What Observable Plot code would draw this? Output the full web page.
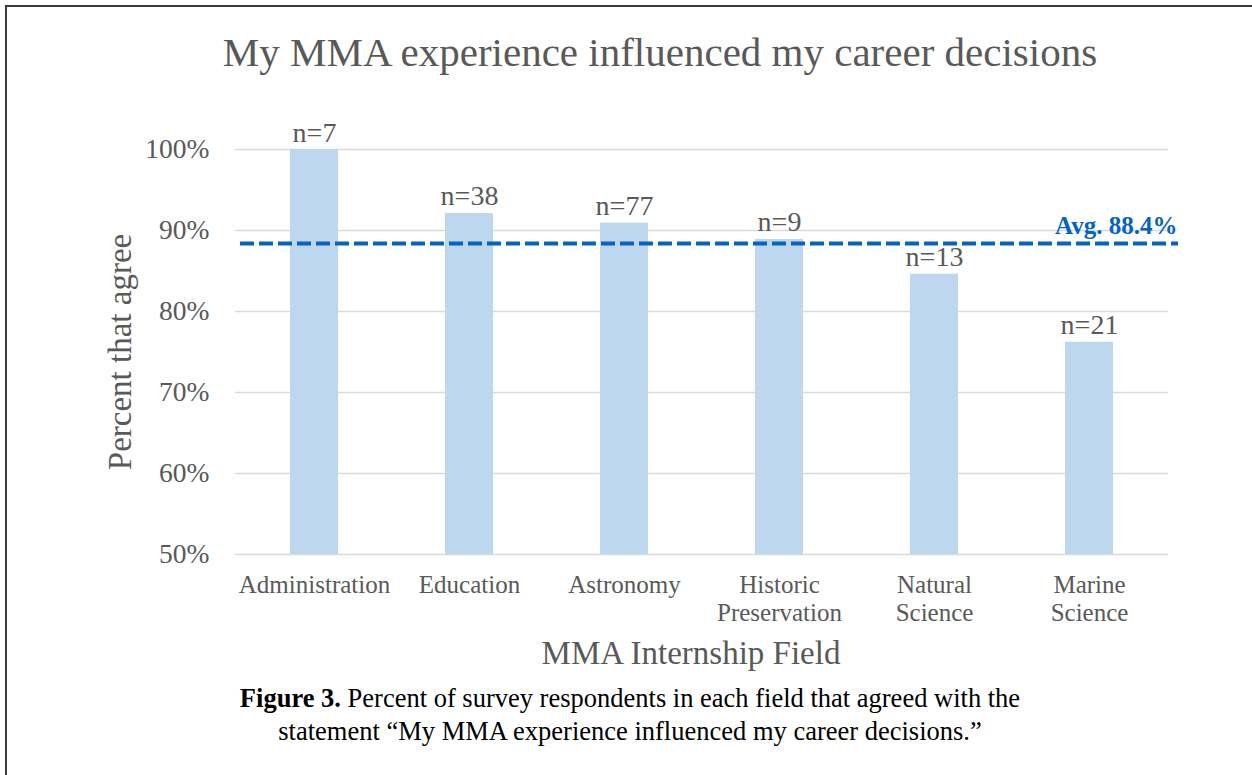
<!DOCTYPE html>
<html>
<head>
<meta charset="utf-8">
<script src="https://cdn.jsdelivr.net/npm/d3@7"></script>
<script src="https://cdn.jsdelivr.net/npm/@observablehq/plot@0.6"></script>
<style>
  html, body { margin: 0; padding: 0; background: #fff; }
  #wrap { position: relative; width: 1252px; height: 775px; overflow: hidden; background: #fff; font-family: "Liberation Serif", "Times New Roman", serif; }
  #border { position: absolute; left: 5px; top: 5px; width: 1300px; height: 900px; border-top: 2px solid #3a3a3a; border-left: 2px solid #3a3a3a; }
  #title { position: absolute; left: 0; top: 32px; width: 1320px; text-align: center; font-size: 41px; line-height: 40px; color: #595959; }
  #chart { position: absolute; left: 0; top: 0; }
  #caption { position: absolute; left: 0; top: 682px; width: 1260px; text-align: center; font-size: 26.5px; line-height: 33px; color: #000; }
</style>
</head>
<body>
<div id="wrap">
  <div id="border"></div>
  <div id="chart"></div>
  <div id="title">My MMA experience influenced my career decisions</div>
  <div id="caption"><b>Figure 3.</b> Percent of survey respondents in each field that agreed with the<br>statement “My MMA experience influenced my career decisions.”</div>
</div>
<script>
const fields = ["Administration", "Education", "Astronomy", "Historic Preservation", "Natural Science", "Marine Science"];
const fieldLabels = ["Administration", "Education", "Astronomy", "Historic\nPreservation", "Natural\nScience", "Marine\nScience"];
const percentAgree = [1.0, 0.921, 0.909, 0.889, 0.846, 0.762];
const respondents = [7, 38, 77, 9, 13, 21];
const average = 0.884;
const averageLabel = "Avg. 88.4%";
const yTicks = [0.5, 0.6, 0.7, 0.8, 0.9, 1.0];
const yDomain = [0.5, 1.0];
const xTitle = "MMA Internship Field";
const yTitle = "Percent that agree";

const data = fields.map((f, i) => ({field: f, label: fieldLabels[i], pct: percentAgree[i], n: respondents[i]}));

const font = "Liberation Serif, Times New Roman, serif";
const gray = "#595959";

const chart = Plot.plot({
  width: 1252,
  height: 680,
  marginTop: 149,
  marginBottom: 126,
  marginLeft: 235,
  marginRight: 84,
  style: {fontFamily: font, background: "transparent", color: gray, overflow: "visible"},
  x: {domain: fields, paddingInner: 0.69, paddingOuter: 0.345, axis: null},
  y: {domain: yDomain, axis: null},
  marks: [
    Plot.ruleY(yTicks, {stroke: "#d9d9d9", strokeWidth: 1.5}),
    Plot.barY(data, {x: "field", y1: () => yDomain[0], y2: "pct", fill: "#bdd7ee"}),
    Plot.text(data, {x: "field", y: "pct", text: d => `n=${d.n}`, lineAnchor: "bottom", dy: -8, fontSize: 28, fill: gray}),
    Plot.ruleY([average], {stroke: "#0563c1", strokeWidth: 4, strokeDasharray: "14,5", insetLeft: 5, insetRight: -10}),
    Plot.text([average], {y: d => d, frameAnchor: "right", text: () => averageLabel, textAnchor: "end", lineAnchor: "bottom", dx: 9, dy: -9, fontSize: 25, fontWeight: "bold", fill: "#0563c1"}),
    Plot.axisY({ticks: yTicks, tickFormat: d3.format(".0%"), tickSize: 0, tickPadding: 26, fontSize: 27.5, label: null, color: gray}),
    Plot.text(data, {x: "field", text: "label", frameAnchor: "bottom", lineAnchor: "top", dy: 19, lineHeight: 1.12, fontSize: 25, fill: gray}),
    Plot.text([xTitle], {frameAnchor: "bottom", text: d => d, textAnchor: "middle", lineAnchor: "bottom", dx: -11, dy: 109, fontSize: 33, fill: gray}),
    Plot.text([yTitle], {frameAnchor: "left", text: d => d, textAnchor: "middle", lineAnchor: "middle", rotate: -90, dx: -115, fontSize: 33, fill: gray})
  ]
});
document.getElementById("chart").appendChild(chart);
</script>
</body>
</html>
